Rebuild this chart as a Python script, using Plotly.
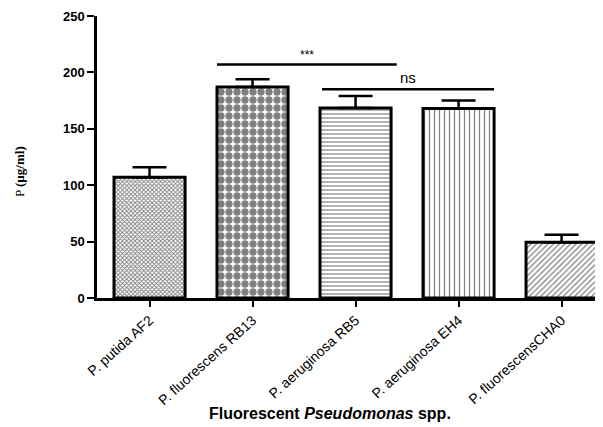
import plotly.graph_objects as go

categories = ["P. putida AF2", "P. fluorescens RB13", "P. aeruginosa RB5",
              "P. aeruginosa EH4", "P. fluorescensCHA0"]
values = [107, 187, 168.5, 168, 49.5]
errors = [9, 7, 10.5, 7, 6.5]
patterns = ["x", ".", "-", "|", "/"]
pattern_sizes = [3, 8, 4, 5, 4]
pattern_solid = [0.5, 0.65, 0.3, 0.25, 0.3]

y_ticks = [0, 50, 100, 150, 200, 250]
sig_brackets = [
    # (x start, x end, y, label, font size)
    (0.655, 2.40, 207, "***", 12),
    (1.675, 3.345, 185, "ns", 15),
]

xs = list(range(len(categories)))

fig = go.Figure()
for i, (c, v, e) in enumerate(zip(categories, values, errors)):
    fig.add_trace(go.Bar(
        x=[i], y=[v], width=0.69,
        marker=dict(
            color="white",
            line=dict(color="black", width=3),
            pattern=dict(shape=patterns[i], size=pattern_sizes[i],
                         solidity=pattern_solid[i], fgcolor="#000000",
                         bgcolor="white", fillmode="overlay"),
        ),
        error_y=dict(type="data", array=[e], arrayminus=[0], symmetric=False,
                     color="black", thickness=2.5, width=17),
        showlegend=False,
    ))

for x0, x1, y, label, fs in sig_brackets:
    fig.add_shape(type="line", x0=x0, x1=x1, y0=y, y1=y, xref="x", yref="y",
                  line=dict(color="black", width=2.5))
    fig.add_annotation(x=(x0 + x1) / 2, y=y, text=label, showarrow=False,
                       yanchor="bottom", yshift=1,
                       font=dict(family="Liberation Sans", size=fs, color="black"))

fig.add_annotation(xref="paper", yref="paper", x=0.453, y=-0.41,
                   text="<b>Fluorescent <i>Pseudomonas</i> spp.</b>",
                   showarrow=False, xanchor="center", yanchor="middle",
                   font=dict(size=16, family="Liberation Sans", color="black"))
fig.add_annotation(xref="paper", yref="paper", x=-0.152, y=0.45,
                   text="P <b>(µg/ml)</b>", textangle=-90,
                   showarrow=False, xanchor="center", yanchor="middle",
                   font=dict(size=13, family="Liberation Serif", color="black"))

fig.update_layout(
    width=603, height=427,
    margin=dict(l=89, r=0, t=8, b=137),
    plot_bgcolor="white", paper_bgcolor="white",
    font=dict(family="Liberation Sans", color="black"),
)
fig.update_xaxes(
    range=[-0.51, 4.48],
    tickmode="array", tickvals=xs, ticktext=categories,
    tickangle=-42, tickfont=dict(size=14, family="Liberation Sans", color="black"),
    ticks="outside", ticklen=6, tickwidth=2, tickcolor="black",
    showline=True, linecolor="black", linewidth=2.5,
    showgrid=False, zeroline=False,
)
fig.update_yaxes(
    range=[0, 250],
    tickmode="array", tickvals=y_ticks,
    tickfont=dict(size=13, family="Liberation Sans", weight="bold", color="black"),
    ticks="outside", ticklen=7, tickwidth=2, tickcolor="black",
    showline=True, linecolor="black", linewidth=2.5,
    showgrid=False, zeroline=False,
)

fig.write_html("out.html")
